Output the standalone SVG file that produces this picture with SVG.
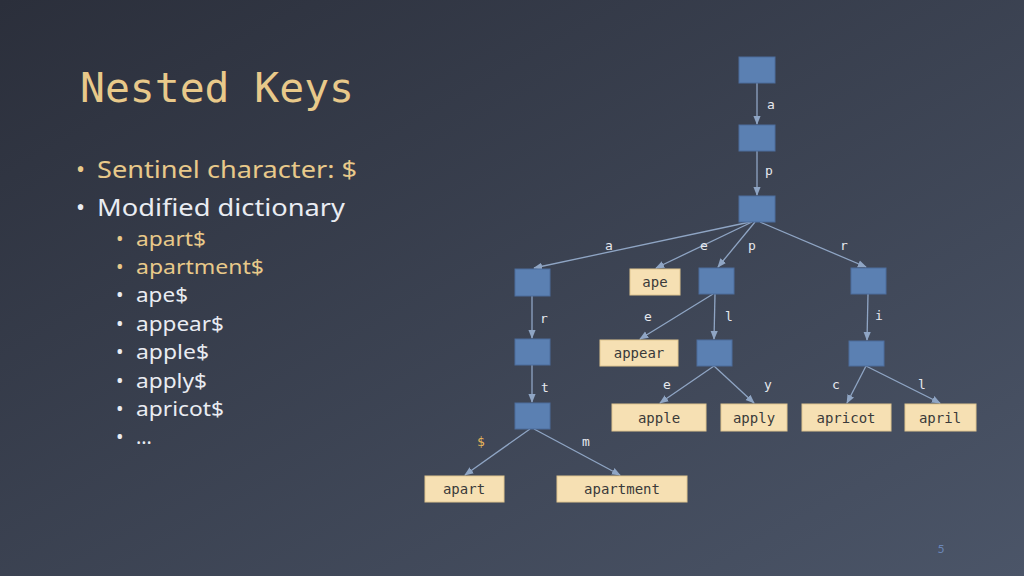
<svg xmlns="http://www.w3.org/2000/svg" width="1024" height="576" viewBox="0 0 1024 576">
<defs>
<linearGradient id="bg" x1="0" y1="0" x2="1" y2="1">
<stop offset="0" stop-color="#2b2f3b"/><stop offset="1" stop-color="#4b5568"/>
</linearGradient>
<marker id="ah" viewBox="0 0 10 10" refX="9" refY="5" markerWidth="7" markerHeight="7" orient="auto-start-reverse"><path d="M0,1 L10,5 L0,9 z" fill="#8fa5c4"/></marker>
<style>
.n{fill:#5b80b2;stroke:#4d6d9c;stroke-width:1}
.w{fill:#f6e0b3;stroke:#e0c690;stroke-width:1}
.wt{font-family:"DejaVu Sans Mono",monospace;font-size:14px;fill:#3a3a3a;text-anchor:middle}
.el{font-family:"DejaVu Sans Mono",monospace;font-size:13px;fill:#e6e8ee;text-anchor:middle}
.e{stroke:#8fa5c4;stroke-width:1.3;fill:none;marker-end:url(#ah)}
.b1{font-family:"Noto Sans",Lato,sans-serif;font-size:24px}
.b2{font-family:"Noto Sans",Lato,sans-serif;font-size:20px}
.g{fill:#e8c98a}.wh{fill:#e9ecf2}
</style>
</defs>
<rect width="1024" height="576" fill="url(#bg)"/>
<text x="80" y="102" font-family="DejaVu Sans Mono,monospace" font-size="40" textLength="274" lengthAdjust="spacingAndGlyphs" class="g">Nested Keys</text>
<g>
<text x="76" y="178" class="b1 g">•</text><text x="97" y="178" class="b1 g" textLength="260" lengthAdjust="spacingAndGlyphs">Sentinel character: $</text>
<text x="76" y="216" class="b1 wh">•</text><text x="97" y="216" class="b1 wh" textLength="248" lengthAdjust="spacingAndGlyphs">Modified dictionary</text>
<g class="b2 g"><text x="116" y="246">•</text><text x="136" y="246" textLength="70" lengthAdjust="spacingAndGlyphs">apart$</text><text x="116" y="274">•</text><text x="136" y="274" textLength="128" lengthAdjust="spacingAndGlyphs">apartment$</text></g>
<g class="b2 wh">
<text x="116" y="302">•</text><text x="136" y="302" textLength="52" lengthAdjust="spacingAndGlyphs">ape$</text>
<text x="116" y="331">•</text><text x="136" y="331" textLength="88" lengthAdjust="spacingAndGlyphs">appear$</text>
<text x="116" y="359">•</text><text x="136" y="359" textLength="73" lengthAdjust="spacingAndGlyphs">apple$</text>
<text x="116" y="388">•</text><text x="136" y="388" textLength="71" lengthAdjust="spacingAndGlyphs">apply$</text>
<text x="116" y="416">•</text><text x="136" y="416" textLength="88" lengthAdjust="spacingAndGlyphs">apricot$</text>
<text x="116" y="444">•</text><text x="136" y="444">…</text>
</g>
</g>
<g id="connectors">
<path class="e" d="M757,83 L757,124"/>
<path class="e" d="M757,151 L757,195"/>
<path class="e" d="M750,222 L534,268"/>
<path class="e" d="M752,222 L656,268"/>
<path class="e" d="M755,222 L718,267"/>
<path class="e" d="M760,222 L866,267"/>
<path class="e" d="M532,296 L532,338"/>
<path class="e" d="M532,365 L532,402"/>
<path class="e" d="M713,294 L640,339"/>
<path class="e" d="M715,294 L714,339"/>
<path class="e" d="M868,294 L867,340"/>
<path class="e" d="M530,429 L465,475"/>
<path class="e" d="M534,429 L620,475"/>
<path class="e" d="M714,366 L660,403"/>
<path class="e" d="M714,366 L754,403"/>
<path class="e" d="M866,366 L847,403"/>
<path class="e" d="M866,366 L940,403"/>
</g>
<g id="labels">
<text class="el" x="771" y="109">a</text>
<text class="el" x="769" y="175">p</text>
<text class="el" x="609" y="250">a</text>
<text class="el" x="704" y="250">e</text>
<text class="el" x="752" y="250">p</text>
<text class="el" x="844" y="250">r</text>
<text class="el" x="544" y="323">r</text>
<text class="el" x="648" y="321">e</text>
<text class="el" x="729" y="321">l</text>
<text class="el" x="879" y="320">i</text>
<text class="el" x="545" y="392">t</text>
<text class="el" x="667" y="389">e</text>
<text class="el" x="768" y="389">y</text>
<text class="el" x="836" y="389">c</text>
<text class="el" x="922" y="389">l</text>
<text class="el" x="481" y="446" style="fill:#e8b75a">$</text>
<text class="el" x="586" y="446">m</text>
</g>
<g id="n-root"><rect class="n" x="739" y="57" width="36" height="26"/></g>
<g id="n-a"><rect class="n" x="739" y="125" width="36" height="26"/></g>
<g id="n-ap"><rect class="n" x="739" y="196" width="36" height="26"/></g>
<g id="n-apa"><rect class="n" x="515" y="269" width="35" height="27"/></g>
<g id="n-ape"><rect class="w" x="630" y="269" width="50" height="26"/><text class="wt" x="655" y="287">ape</text></g>
<g id="n-app"><rect class="n" x="699" y="268" width="35" height="26"/></g>
<g id="n-apr"><rect class="n" x="851" y="268" width="35" height="26"/></g>
<g id="n-apar"><rect class="n" x="515" y="339" width="35" height="26"/></g>
<g id="n-appear"><rect class="w" x="600" y="340" width="78" height="26"/><text class="wt" x="639" y="358">appear</text></g>
<g id="n-appl"><rect class="n" x="697" y="340" width="35" height="26"/></g>
<g id="n-apri"><rect class="n" x="849" y="341" width="35" height="25"/></g>
<g id="n-apart"><rect class="n" x="515" y="403" width="35" height="26"/></g>
<g id="n-apple"><rect class="w" x="612" y="404" width="94" height="27"/><text class="wt" x="659" y="423">apple</text></g>
<g id="n-apply"><rect class="w" x="721" y="404" width="66" height="27"/><text class="wt" x="754" y="423">apply</text></g>
<g id="n-apricot"><rect class="w" x="802" y="404" width="89" height="27"/><text class="wt" x="846" y="423">apricot</text></g>
<g id="n-april"><rect class="w" x="905" y="404" width="71" height="27"/><text class="wt" x="940" y="423">april</text></g>
<g id="n-apart-w"><rect class="w" x="425" y="476" width="79" height="26"/><text class="wt" x="464" y="494">apart</text></g>
<g id="n-apartment"><rect class="w" x="557" y="476" width="130" height="26"/><text class="wt" x="622" y="494">apartment</text></g>
<text x="941" y="553" font-family="Lato,sans-serif" font-size="12" fill="#6a86b8" text-anchor="middle">5</text>
</svg>
